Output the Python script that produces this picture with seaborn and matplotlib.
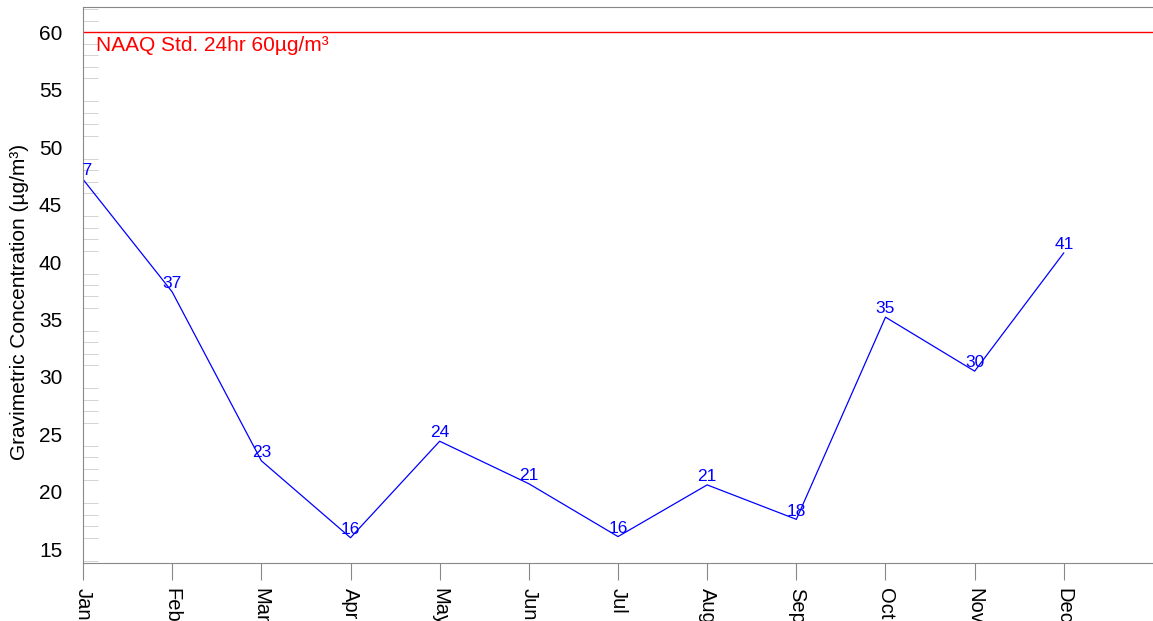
import pandas as pd
import seaborn as sns
import matplotlib.pyplot as plt
from matplotlib.ticker import MultipleLocator

months = ['Jan', 'Feb', 'Mar', 'Apr', 'May', 'Jun', 'Jul', 'Aug', 'Sep', 'Oct', 'Nov', 'Dec']
conc = [47.2, 37.4, 22.7, 16.0, 24.4, 20.7, 16.1, 20.6, 17.6, 35.2, 30.5, 40.8]
std_limit = 60
std_label = 'NAAQ Std. 24hr 60µg/m³'
y_label = 'Gravimetric Concentration (µg/m³)'

sns.set_style('white')
plt.rcParams['font.family'] = ['Liberation Sans', 'DejaVu Sans']

df = pd.DataFrame({'month': months, 'conc': conc})

fig = plt.figure(figsize=(11.53, 6.21), dpi=100)
ax = fig.add_axes([83 / 1153, 58 / 621, 1 - 83 / 1153, 556 / 621])

sns.lineplot(data=df, x='month', y='conc', ax=ax, color='blue', linewidth=0.9, sort=False)

for i, v in enumerate(conc):
    ax.annotate(f'{v:.0f}', (i, v), xytext=(0, 6), textcoords='offset points',
                ha='center', va='center', color='blue', fontsize=12.5, clip_on=True)

ax.axhline(std_limit, color='red', linewidth=1)
ax.text(0.15, std_limit - 0.35, std_label, color='red', fontsize=15, va='top', ha='left')

ax.set_xlim(0, 12)
ax.set_ylim(13.8, 62.2)
ax.yaxis.set_major_locator(MultipleLocator(5))
ax.yaxis.set_minor_locator(MultipleLocator(1))
ax.set_xticks(range(len(months)))
ax.set_xticklabels(months, rotation=-90, fontsize=14.5, color='black')
ax.tick_params(axis='y', which='major', direction='inout', length=22, color='#666666',
               labelsize=15, labelcolor='black', pad=4)
ax.tick_params(axis='y', which='minor', direction='in', length=11, color='#cccccc', left=True)
ax.tick_params(axis='x', which='major', direction='out', length=12, color='#888888', bottom=True, pad=6)
ax.set_xlabel('')
ax.set_ylabel(y_label, fontsize=15, color='black')
ax.yaxis.set_label_coords(-0.05, 0.47)

for side in ['left', 'bottom', 'top']:
    ax.spines[side].set_color('#888888')
ax.spines['right'].set_visible(False)

fig.savefig('out.png', dpi=100)
